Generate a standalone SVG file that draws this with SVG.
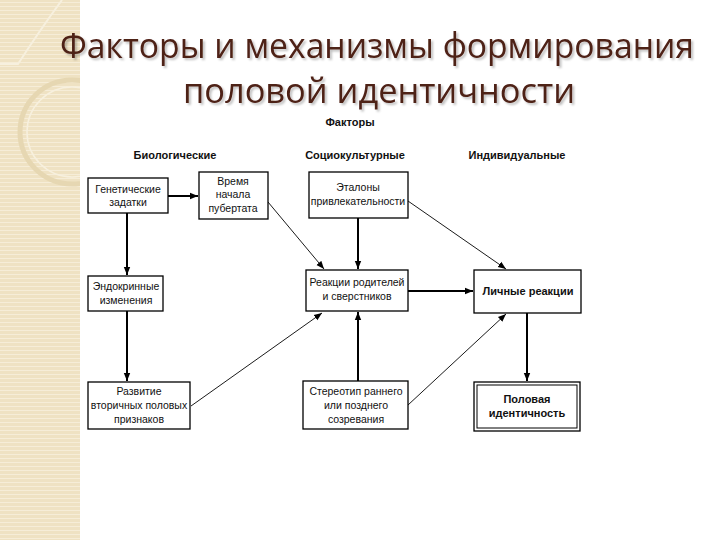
<svg xmlns="http://www.w3.org/2000/svg" width="720" height="540" viewBox="0 0 720 540">
<defs>
<pattern id="stripes" width="8" height="4" patternUnits="userSpaceOnUse">
<rect width="8" height="4" fill="#efe2c3"/>
<rect y="2" width="8" height="1" fill="#f6edd8"/>
</pattern>
<clipPath id="strip"><rect x="0" y="0" width="80" height="540"/></clipPath>
<marker id="ah" viewBox="0 0 10 10" refX="10" refY="5" markerWidth="8" markerHeight="8" markerUnits="userSpaceOnUse" orient="auto">
<path d="M0,1 L10,5 L0,9 Z" fill="#000"/>
</marker>
<filter id="sh" x="-10%" y="-30%" width="120%" height="160%">
<feGaussianBlur in="SourceAlpha" stdDeviation="1.2"/>
<feOffset dx="1.5" dy="1.5" result="b"/>
<feFlood flood-color="#000" flood-opacity="0.25"/>
<feComposite in2="b" operator="in"/>
<feMerge><feMergeNode/><feMergeNode in="SourceGraphic"/></feMerge>
</filter>
</defs>
<style>
.box{fill:#fff;stroke:#000;stroke-width:1.3}
.t{font-family:"Liberation Sans",Arial,sans-serif;font-size:10.5px;fill:#111;text-anchor:middle}
.b{font-family:"Liberation Sans",Arial,sans-serif;font-size:11px;font-weight:bold;fill:#111;text-anchor:middle}
.thick{stroke:#000;stroke-width:2;fill:none;marker-end:url(#ah)}
.thin{stroke:#000;stroke-width:0.9;fill:none;marker-end:url(#ah)}
.title{font-family:"Open Sans","Noto Sans",sans-serif;font-size:35px;fill:#4e2016;text-anchor:middle}
</style>
<rect width="720" height="540" fill="#fff"/>
<g id="background">
<rect x="0" y="0" width="80" height="540" fill="url(#stripes)"/>
<g clip-path="url(#strip)">
<circle cx="72" cy="132" r="52" fill="none" stroke="#e6d7b2" stroke-width="5"/>
<circle cx="72" cy="132" r="45" fill="none" stroke="#f7f0de" stroke-width="1.5"/>
<path d="M0,64 L18,64 Q40,30 62,0" fill="none" stroke="#f7f0de" stroke-width="2"/>
</g>
</g>
<g id="title" filter="url(#sh)">
<text class="title" x="377" y="58" textLength="634" lengthAdjust="spacingAndGlyphs">Факторы и механизмы формирования</text>
<text class="title" x="379" y="103" textLength="392" lengthAdjust="spacingAndGlyphs">половой идентичности</text>
</g>
<g id="headers">
<text class="b" x="350" y="126">Факторы</text>
<text class="b" x="175" y="159">Биологические</text>
<text class="b" x="355" y="159">Социокультурные</text>
<text class="b" x="517" y="159">Индивидуальные</text>
</g>
<g id="connectors">
<line class="thick" x1="168" y1="196" x2="198" y2="196"/>
<line class="thick" x1="127" y1="213" x2="127" y2="275"/>
<line class="thick" x1="127" y1="311" x2="127" y2="381"/>
<line class="thin" x1="268" y1="202" x2="324" y2="269"/>
<line class="thick" x1="358" y1="218" x2="358" y2="269"/>
<line class="thin" x1="408" y1="201" x2="506" y2="269"/>
<line class="thin" x1="191" y1="406" x2="322" y2="313"/>
<line class="thick" x1="358" y1="381" x2="358" y2="312"/>
<line class="thin" x1="408" y1="405" x2="506" y2="314"/>
<line class="thick" x1="408" y1="291" x2="473" y2="291"/>
<line class="thick" x1="527" y1="313" x2="527" y2="381"/>
</g>
<g id="n-genetic">
<rect class="box" x="88" y="178" width="80" height="35"/>
<text class="t" x="128" y="193">Генетические</text>
<text class="t" x="128" y="206">задатки</text>
</g>
<g id="n-puberty">
<rect class="box" x="199" y="172" width="69" height="47"/>
<text class="t" x="233" y="185">Время</text>
<text class="t" x="233" y="198">начала</text>
<text class="t" x="233" y="212">пубертата</text>
</g>
<g id="n-standards">
<rect class="box" x="309" y="172" width="99" height="46"/>
<text class="t" x="358" y="191">Эталоны</text>
<text class="t" x="358" y="205">привлекательности</text>
</g>
<g id="n-endocrine">
<rect class="box" x="88" y="276" width="75" height="35"/>
<text class="t" x="126" y="290">Эндокринные</text>
<text class="t" x="126" y="304">изменения</text>
</g>
<g id="n-reactions">
<rect class="box" x="306" y="270" width="102" height="41"/>
<text class="t" x="357" y="286">Реакции родителей</text>
<text class="t" x="357" y="300">и сверстников</text>
</g>
<g id="n-personal">
<rect class="box" x="474" y="270" width="107" height="43"/>
<text class="b" x="528" y="295">Личные реакции</text>
</g>
<g id="n-secondary">
<rect class="box" x="88" y="382" width="102" height="47"/>
<text class="t" x="139" y="395">Развитие</text>
<text class="t" x="139" y="409">вторичных половых</text>
<text class="t" x="139" y="423">признаков</text>
</g>
<g id="n-stereotype">
<rect class="box" x="303" y="381" width="105" height="48"/>
<text class="t" x="356" y="395">Стереотип раннего</text>
<text class="t" x="356" y="409">или позднего</text>
<text class="t" x="356" y="423">созревания</text>
</g>
<g id="n-identity">
<rect class="box" x="474" y="382" width="106" height="49"/>
<rect x="477" y="385" width="100" height="43" fill="none" stroke="#000" stroke-width="1"/>
<text class="b" x="527" y="403">Половая</text>
<text class="b" x="527" y="417">идентичность</text>
</g>
</svg>
